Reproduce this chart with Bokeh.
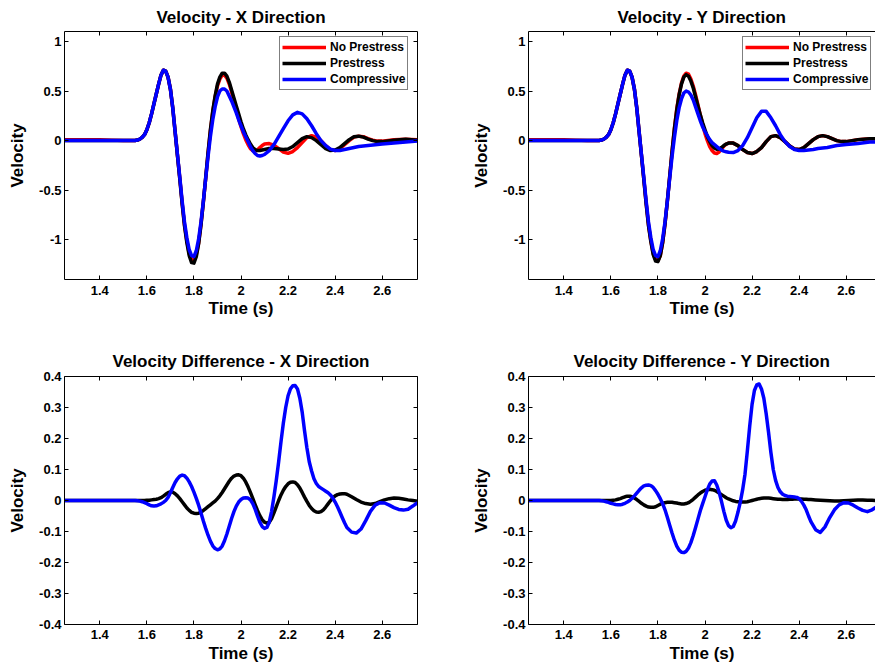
import numpy as np
from bokeh.plotting import figure
from bokeh.layouts import column, row
from bokeh.models import LinearAxis, FixedTicker, Legend, LegendItem, Range1d
from bokeh.embed import file_html
from bokeh.resources import INLINE

# ---------------- data ----------------
t_top = np.round(np.concatenate([[1.25, 1.30, 1.35, 1.40, 1.45, 1.50, 1.53],
                                 np.arange(1.55, 2.105, 0.01),
                                 np.arange(2.12, 2.605, 0.02),
                                 [2.65, 2.70, 2.75]]), 3)

t_bot = np.round(np.concatenate([[1.25, 1.30, 1.35, 1.40, 1.45, 1.50, 1.53],
                                 np.arange(1.55, 2.455, 0.01),
                                 np.arange(2.47, 2.755, 0.02)]), 3)

# Velocity - X direction
vx_nopre = [0.01, 0.01, 0.01, 0.01, 0.005, 0.0, 0.0,
            0.002, 0.006, 0.015, 0.032, 0.06, 0.11, 0.18, 0.27, 0.37, 0.47,
            0.57, 0.66, 0.71, 0.70, 0.64, 0.52, 0.33, 0.09, -0.15, -0.38,
            -0.63, -0.85, -1.01, -1.14, -1.20, -1.21, -1.15, -1.03, -0.84, -0.62,
            -0.38, -0.13, 0.10, 0.29, 0.44, 0.55, 0.62, 0.66, 0.66, 0.63,
            0.57, 0.49, 0.40, 0.31, 0.22, 0.14, 0.07, 0.01, -0.04, -0.08,
            -0.10, -0.105, -0.095, -0.07, -0.05, -0.035,
            -0.03, -0.045, -0.08, -0.115, -0.128, -0.11, -0.07, -0.02, 0.03, 0.05,
            0.035, 0.0, -0.05, -0.09, -0.10, -0.08, -0.04, 0.0, 0.035, 0.045,
            0.04, 0.02, 0.005, -0.005, -0.005,
            0.01, 0.015, 0.01]
vx_pre = [0.0, 0.0, 0.0, 0.0, 0.0, 0.0, 0.0,
          0.002, 0.006, 0.015, 0.032, 0.06, 0.11, 0.18, 0.27, 0.37, 0.47,
          0.57, 0.66, 0.71, 0.70, 0.64, 0.52, 0.33, 0.09, -0.15, -0.39,
          -0.64, -0.86, -1.03, -1.16, -1.23, -1.235, -1.17, -1.04, -0.85, -0.62,
          -0.37, -0.12, 0.11, 0.30, 0.45, 0.57, 0.64, 0.68, 0.68, 0.65,
          0.59, 0.51, 0.43, 0.35, 0.27, 0.19, 0.12, 0.06, 0.01, -0.035,
          -0.07, -0.09, -0.10, -0.10, -0.095, -0.09,
          -0.08, -0.08, -0.085, -0.09, -0.085, -0.06, -0.02, 0.02, 0.04, 0.03,
          0.0, -0.04, -0.08, -0.10, -0.095, -0.07, -0.03, 0.01, 0.04, 0.045,
          0.035, 0.015, 0.0, -0.01, -0.01,
          0.005, 0.015, 0.005]
vx_comp = [0.0, 0.0, 0.0, 0.0, 0.0, 0.0, 0.0,
           0.002, 0.006, 0.015, 0.032, 0.06, 0.11, 0.18, 0.27, 0.37, 0.47,
           0.57, 0.66, 0.71, 0.70, 0.64, 0.52, 0.33, 0.09, -0.14, -0.37,
           -0.61, -0.82, -0.98, -1.10, -1.16, -1.17, -1.11, -0.99, -0.82, -0.61,
           -0.38, -0.16, 0.04, 0.21, 0.34, 0.44, 0.50, 0.52, 0.52, 0.50,
           0.45, 0.40, 0.34, 0.28, 0.21, 0.15, 0.09, 0.04, -0.01, -0.06,
           -0.10, -0.13, -0.15, -0.155, -0.15, -0.14,
           -0.10, -0.04, 0.04, 0.12, 0.20, 0.26, 0.285, 0.27, 0.22, 0.15,
           0.07, 0.0, -0.05, -0.085, -0.10, -0.10, -0.09, -0.08, -0.07, -0.06,
           -0.055, -0.05, -0.045, -0.04, -0.035,
           -0.025, -0.015, -0.005]

# Velocity - Y direction
vy_nopre = [0.01, 0.01, 0.01, 0.01, 0.005, 0.0, 0.0,
            0.002, 0.006, 0.015, 0.032, 0.06, 0.11, 0.18, 0.27, 0.37, 0.47,
            0.57, 0.66, 0.71, 0.70, 0.64, 0.52, 0.33, 0.09, -0.15, -0.39,
            -0.63, -0.85, -1.01, -1.14, -1.20, -1.21, -1.16, -1.03, -0.84, -0.61,
            -0.36, -0.11, 0.12, 0.32, 0.47, 0.58, 0.65, 0.68, 0.67, 0.62,
            0.55, 0.46, 0.36, 0.26, 0.16, 0.07, 0.0, -0.06, -0.10, -0.125,
            -0.13, -0.115, -0.085, -0.055, -0.035, -0.025,
            -0.025, -0.05, -0.09, -0.12, -0.13, -0.11, -0.07, -0.01, 0.04, 0.05,
            0.03, -0.01, -0.055, -0.085, -0.09, -0.07, -0.03, 0.01, 0.04, 0.05,
            0.04, 0.02, 0.0, -0.01, -0.01,
            0.01, 0.02, 0.015]
vy_pre = [0.0, 0.0, 0.0, 0.0, 0.0, 0.0, 0.0,
          0.002, 0.006, 0.015, 0.032, 0.06, 0.11, 0.18, 0.27, 0.37, 0.47,
          0.57, 0.66, 0.71, 0.70, 0.64, 0.52, 0.33, 0.09, -0.15, -0.39,
          -0.64, -0.86, -1.02, -1.15, -1.215, -1.22, -1.16, -1.03, -0.84, -0.61,
          -0.36, -0.11, 0.12, 0.31, 0.46, 0.57, 0.64, 0.665, 0.65, 0.60,
          0.53, 0.44, 0.35, 0.26, 0.18, 0.11, 0.04, -0.01, -0.05, -0.075,
          -0.087, -0.085, -0.07, -0.05, -0.035, -0.025,
          -0.025, -0.05, -0.09, -0.12, -0.13, -0.11, -0.07, -0.01, 0.04, 0.05,
          0.03, -0.01, -0.055, -0.085, -0.09, -0.07, -0.03, 0.01, 0.04, 0.05,
          0.04, 0.02, 0.0, -0.01, -0.01,
          0.01, 0.02, 0.015]
vy_comp = [0.0, 0.0, 0.0, 0.0, 0.0, 0.0, 0.0,
           0.002, 0.006, 0.015, 0.032, 0.06, 0.11, 0.18, 0.27, 0.37, 0.47,
           0.57, 0.66, 0.71, 0.70, 0.64, 0.52, 0.33, 0.09, -0.14, -0.37,
           -0.61, -0.82, -0.98, -1.10, -1.16, -1.17, -1.11, -0.99, -0.82, -0.61,
           -0.38, -0.16, 0.03, 0.20, 0.33, 0.42, 0.48, 0.50, 0.49, 0.46,
           0.41, 0.34, 0.27, 0.20, 0.14, 0.09, 0.05, 0.01, -0.02, -0.04,
           -0.06, -0.08, -0.095, -0.105, -0.113, -0.118,
           -0.12, -0.10, -0.05, 0.03, 0.13, 0.23, 0.295, 0.295, 0.23, 0.15,
           0.06, -0.01, -0.06, -0.09, -0.10, -0.10, -0.095, -0.09, -0.08, -0.075,
           -0.07, -0.06, -0.05, -0.045, -0.04,
           -0.03, -0.015, -0.01]

# Velocity difference - X direction
dx_pre = [0.0, 0.0, 0.0, 0.0, 0.0, 0.0, 0.0,
          0.0, 0.0, 0.0, 0.0, 0.0, 0.001, 0.001, 0.002, 0.003, 0.004,
          0.006, 0.009, 0.014, 0.02, 0.025, 0.028, 0.027, 0.022, 0.015, 0.006,
          -0.004, -0.014, -0.024, -0.032, -0.038, -0.041, -0.042, -0.041, -0.037, -0.032,
          -0.026, -0.02, -0.014, -0.008, -0.002, 0.006, 0.015, 0.026, 0.038, 0.05,
          0.062, 0.072, 0.079, 0.082, 0.083, 0.08, 0.072, 0.06, 0.044, 0.026,
          0.007, -0.013, -0.032, -0.049, -0.062, -0.07, -0.073, -0.07, -0.058, -0.04,
          -0.02, 0.0, 0.018, 0.033, 0.045, 0.054, 0.059, 0.06, 0.058, 0.051,
          0.04, 0.026, 0.011, -0.003, -0.016, -0.026, -0.033, -0.037, -0.038, -0.036,
          -0.03, -0.021, -0.011, -0.001, 0.008, 0.015, 0.019, 0.021, 0.022, 0.022,
          0.02,
          0.012, 0.003, -0.005, -0.01, -0.012, -0.01, -0.004, 0.002, 0.006, 0.008,
          0.007, 0.005, 0.002, 0.0, -0.002]
dx_comp = [0.0, 0.0, 0.0, 0.0, 0.0, 0.0, 0.0,
           0.0, -0.001, -0.002, -0.004, -0.007, -0.010, -0.014, -0.017, -0.018, -0.017,
           -0.014, -0.011, -0.006, 0.0, 0.01, 0.025, 0.042, 0.058, 0.07, 0.079,
           0.082, 0.08, 0.072, 0.06, 0.045, 0.027, 0.007, -0.015, -0.04, -0.066,
           -0.09, -0.112, -0.131, -0.146, -0.155, -0.159, -0.156, -0.147, -0.13, -0.108,
           -0.083, -0.058, -0.036, -0.018, -0.005, 0.003, 0.008, 0.009, 0.008, 0.002,
           -0.01, -0.028, -0.05, -0.07, -0.084, -0.09, -0.087, -0.07, -0.035, 0.012,
           0.065, 0.125, 0.19, 0.25, 0.30, 0.338, 0.36, 0.37, 0.371, 0.36,
           0.33, 0.285, 0.225, 0.17, 0.125, 0.095, 0.07, 0.055, 0.045, 0.04,
           0.035, 0.03, 0.025, 0.018, 0.008, -0.005, -0.02, -0.037, -0.055, -0.072,
           -0.087,
           -0.102, -0.105, -0.092, -0.065, -0.035, -0.015, -0.007, -0.008, -0.015, -0.023,
           -0.029, -0.031, -0.028, -0.018, -0.007]

# Velocity difference - Y direction
dy_pre = [0.0, 0.0, 0.0, 0.0, 0.0, 0.0, 0.0,
          0.0, 0.0, 0.0, 0.0, 0.0, 0.0, 0.001, 0.002, 0.004, 0.006,
          0.009, 0.012, 0.014, 0.014, 0.012, 0.008, 0.003, -0.003, -0.009, -0.014,
          -0.018, -0.021, -0.022, -0.022, -0.02, -0.016, -0.012, -0.009, -0.007, -0.006,
          -0.006, -0.006, -0.007, -0.008, -0.01, -0.011, -0.011, -0.01, -0.007, -0.002,
          0.004, 0.011, 0.018, 0.024, 0.029, 0.033, 0.035, 0.036, 0.035, 0.033,
          0.029, 0.024, 0.019, 0.014, 0.009, 0.005, 0.002, -0.001, -0.003, -0.004,
          -0.005, -0.005, -0.005, -0.004, -0.002, 0.0, 0.002, 0.004, 0.006, 0.007,
          0.008, 0.008, 0.008, 0.007, 0.006, 0.005, 0.004, 0.004, 0.003, 0.003,
          0.003, 0.004, 0.004, 0.005, 0.005, 0.005, 0.005, 0.004, 0.004, 0.003,
          0.003,
          0.002, 0.001, 0.0, -0.001, -0.002, -0.002, -0.001, 0.0, 0.001, 0.002,
          0.002, 0.001, 0.001, 0.0, 0.0]
dy_comp = [0.0, 0.0, 0.0, 0.0, 0.0, 0.0, 0.0,
           0.0, -0.001, -0.002, -0.004, -0.006, -0.009, -0.011, -0.013, -0.014, -0.014,
           -0.012, -0.009, -0.005, 0.0, 0.007, 0.015, 0.024, 0.033, 0.041, 0.047,
           0.049, 0.05, 0.048, 0.042, 0.032, 0.02, 0.006, -0.01, -0.03, -0.054,
           -0.08, -0.105, -0.128, -0.147, -0.16, -0.167, -0.168, -0.164, -0.153, -0.136,
           -0.113, -0.087, -0.06, -0.033, -0.01, 0.012, 0.035, 0.053, 0.063, 0.064,
           0.05, 0.027, -0.003, -0.035, -0.063, -0.081, -0.088, -0.084, -0.066, -0.038,
           -0.005, 0.035, 0.085, 0.16, 0.24, 0.31, 0.355, 0.373, 0.376, 0.36,
           0.33, 0.28, 0.22, 0.155, 0.1, 0.065, 0.042, 0.028, 0.02, 0.016,
           0.014, 0.013, 0.012, 0.011, 0.01, 0.006, -0.003, -0.015, -0.03, -0.05,
           -0.068,
           -0.094, -0.103, -0.085, -0.055, -0.03, -0.014, -0.007, -0.008, -0.015, -0.024,
           -0.032, -0.036, -0.03, -0.02, -0.012]

for arr in (vx_nopre, vx_pre, vx_comp, vy_nopre, vy_pre, vy_comp):
    assert len(arr) == len(t_top), (len(arr), len(t_top))
for arr in (dx_pre, dx_comp, dy_pre, dy_comp):
    assert len(arr) == len(t_bot), (len(arr), len(t_bot))

series_labels = ["No Prestress", "Prestress", "Compressive"]
series_colors = ["#ff0000", "#000000", "#0000ff"]
panel_titles = ["Velocity - X Direction", "Velocity - Y Direction",
                "Velocity Difference - X Direction", "Velocity Difference - Y Direction"]
x_ticks = [1.4, 1.6, 1.8, 2.0, 2.2, 2.4, 2.6]
x_tick_labels = ["1.4", "1.6", "1.8", "2", "2.2", "2.4", "2.6"]
y_ticks_top = [-1.0, -0.5, 0.0, 0.5, 1.0]
y_tick_labels_top = ["-1", "-0.5", "0", "0.5", "1"]
y_ticks_bot = [-0.4, -0.3, -0.2, -0.1, 0.0, 0.1, 0.2, 0.3, 0.4]
y_tick_labels_bot = ["-0.4", "-0.3", "-0.2", "-0.1", "0", "0.1", "0.2", "0.3", "0.4"]
x_label = "Time (s)"
y_label = "Velocity"

# ---------------- styling ----------------
FONT = "Liberation Sans"
X_START, X_END = 1.25, 2.75
X_END_CLIPPED = X_START + (X_END - X_START) * 347 / 353   # right column is cut by the window


def style_axis(ax, ticks, labels):
    ax.ticker = FixedTicker(ticks=ticks)
    ax.major_label_overrides = {float(v): s for v, s in zip(ticks, labels)}
    ax.major_tick_in = 4
    ax.major_tick_out = 0
    ax.minor_tick_line_color = None
    ax.axis_line_color = "black"
    ax.major_tick_line_color = "black"
    ax.major_label_text_font = FONT
    ax.major_label_text_font_size = "13px"
    ax.major_label_text_font_style = "bold"
    ax.major_label_text_color = "black"
    ax.axis_label_text_font = FONT
    ax.axis_label_text_font_size = "17px"
    ax.axis_label_text_font_style = "bold"
    ax.axis_label_text_color = "black"


def hidden_axis(ticks):
    return LinearAxis(ticker=FixedTicker(ticks=ticks), major_tick_in=4, major_tick_out=0,
                      minor_tick_line_color=None, major_label_text_font_size="0px",
                      major_label_text_color=None,
                      major_label_standoff=0, axis_line_color="black",
                      major_tick_line_color="black")


def make_panel(title, width, height, borders, x_end, y_rng, y_ticks, y_labels,
               right_axis, title_standoff, xlab_standoffs):
    mbl, mbr, mbt, mbb = borders
    p = figure(width=width, height=height, x_range=Range1d(X_START, x_end),
               y_range=Range1d(*y_rng), output_backend="svg", toolbar_location=None,
               min_border_left=mbl, min_border_right=mbr, min_border_top=mbt,
               min_border_bottom=mbb, title=title, x_axis_label=x_label,
               y_axis_label=y_label)
    p.outline_line_color = None
    p.xgrid.visible = False
    p.ygrid.visible = False
    p.background_fill_color = "white"
    p.border_fill_color = "white"
    p.title.align = "center"
    p.title.text_font = FONT
    p.title.text_font_size = "17px"
    p.title.text_font_style = "bold"
    p.title.text_color = "black"
    p.title.standoff = title_standoff
    xa = p.xaxis[0]
    style_axis(xa, x_ticks, x_tick_labels)
    xa.major_label_standoff = xlab_standoffs[0]
    xa.axis_label_standoff = xlab_standoffs[1]
    ya = p.yaxis[0]
    style_axis(ya, y_ticks, y_labels)
    ya.major_label_standoff = 3
    ya.axis_label_standoff = 9
    p.add_layout(hidden_axis(x_ticks), "above")
    if right_axis:
        p.add_layout(hidden_axis(y_ticks), "right")
    return p


def draw(p, t, series, colors, labels, legend_xy=None):
    rs = []
    for ys, c in zip(series, colors):
        rs.append(p.line(t, ys, line_color=c, line_width=3.5, line_join="round"))
    if legend_xy is not None:
        leg = Legend(items=[LegendItem(label=l, renderers=[r]) for l, r in zip(labels, rs)],
                     location=legend_xy, label_text_font=FONT, label_text_font_size="12px",
                     label_text_font_style="bold", label_text_color="black",
                     border_line_color="black", border_line_width=1,
                     background_fill_color="white", background_fill_alpha=1.0,
                     glyph_width=44, glyph_height=16, label_height=16,
                     label_standoff=4, spacing=0, padding=2, margin=0)
        p.add_layout(leg)


p1 = make_panel(panel_titles[0], 457, 335, (64, 40, 31, 56), X_END, (-1.4, 1.1),
                y_ticks_top, y_tick_labels_top, True, 10, (6, 1))
draw(p1, t_top, [vx_nopre, vx_pre, vx_comp], series_colors, series_labels, (215, 189))

p2 = make_panel(panel_titles[1], 418, 335, (71, 0, 31, 56), X_END_CLIPPED, (-1.4, 1.1),
                y_ticks_top, y_tick_labels_top, False, 10, (6, 1))
draw(p2, t_top, [vy_nopre, vy_pre, vy_comp], series_colors, series_labels, (214, 189))

p3 = make_panel(panel_titles[2], 457, 330, (64, 40, 41, 40), X_END, (-0.4, 0.4),
                y_ticks_bot, y_tick_labels_bot, True, 11, (5, 2))
draw(p3, t_bot, [dx_pre, dx_comp], series_colors[1:], series_labels[1:])

p4 = make_panel(panel_titles[3], 418, 330, (71, 0, 41, 40), X_END_CLIPPED, (-0.4, 0.4),
                y_ticks_bot, y_tick_labels_bot, False, 11, (5, 2))
draw(p4, t_bot, [dy_pre, dy_comp], series_colors[1:], series_labels[1:])

layout = column(row(p1, p2), row(p3, p4))

open("out.html", "w").write(file_html(layout, INLINE))
